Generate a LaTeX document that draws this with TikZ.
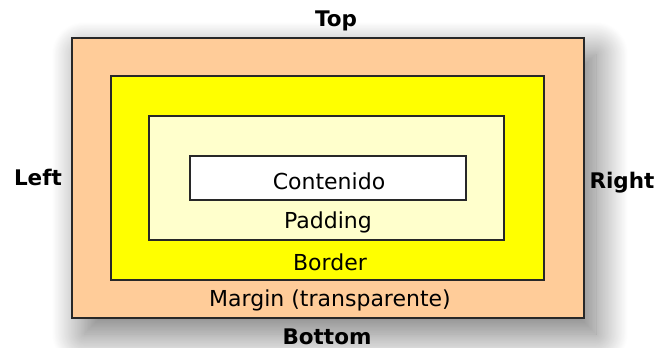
\documentclass[tikz,border=0pt]{standalone}
\usepackage{fontspec}
\setmainfont{DejaVu Sans}
\usepackage{xcolor}
\definecolor{peach}{RGB}{255,204,153}
\definecolor{lemon}{RGB}{255,255,0}
\definecolor{cream}{RGB}{255,255,204}
\definecolor{edge}{RGB}{40,40,40}
\usetikzlibrary{shadows.blur}

\begin{document}
\begin{tikzpicture}[x=1pt,y=-1pt,
        layer/.style={draw=edge, line width=1.3pt},
        side/.style={anchor=base, font=\fontsize{21.5}{25}\selectfont\bfseries},
        inside/.style={anchor=base, font=\fontsize{22}{26}\selectfont}]
    \useasboundingbox (0,0) rectangle (657,348);
    % the four boxes, outside in
    \draw[layer, fill=peach, blur shadow={shadow xshift=12pt, shadow yshift=-16pt,
        shadow blur radius=32pt, shadow blur steps=40, shadow opacity=55}]
        (72,38) rectangle (584,318);
    \draw[layer, fill=lemon] (111,76) rectangle (544,280);
    \draw[layer, fill=cream] (149,116) rectangle (504,240);
    \draw[layer, fill=white] (190,156) rectangle (466,200);
    % texts
    \node[inside] (contenido) at (329,189) {Contenido};
    \node[inside] (padding) at (328,228) {Padding};
    \node[inside] (border) at (330,270) {Border};
    \node[inside] (margin) at (330,306.5) {Margin (transparente)};
    \node[side] (top) at (336,27) {Top};
    \node[side] (bottom) at (327,344) {Bottom};
    \node[side] (left) at (38,185) {Left};
    \node[side] (right) at (622,188) {Right};
\end{tikzpicture}
\end{document}
